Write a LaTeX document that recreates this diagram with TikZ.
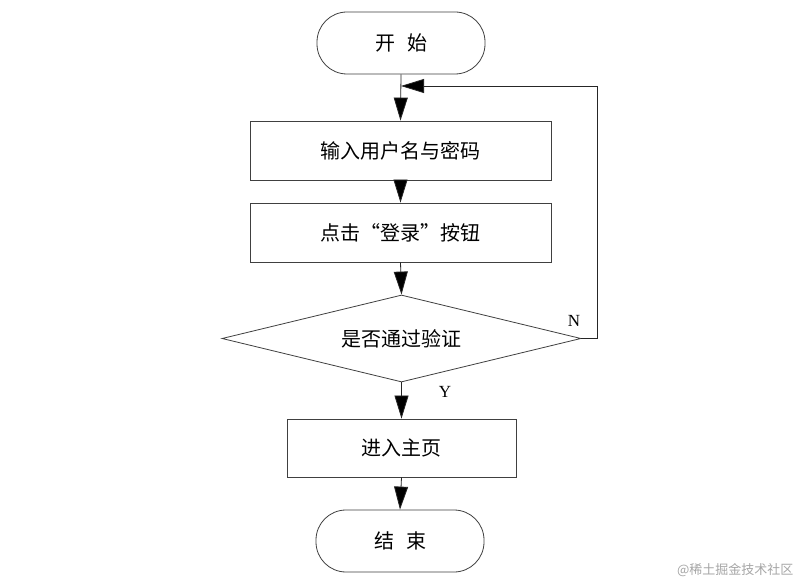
\documentclass[tikz,border=0pt]{standalone}
\usepackage{fontspec}
\setmainfont{Liberation Serif}
\newfontfamily\cjk{Noto Sans CJK SC}
\usetikzlibrary{arrows.meta,shapes.geometric}
\begin{document}
\begin{tikzpicture}[x=1pt,y=-1pt,
  cjkfont/.style={font=\cjk\fontsize{20}{20}\selectfont},
  term/.style={draw=black!75,line width=0.8pt,rounded corners=30pt,minimum width=168pt,minimum height=62pt,inner sep=0pt,cjkfont},
  proc/.style={draw=black!75,line width=0.8pt,minimum width=301pt,minimum height=59pt,inner sep=0pt,cjkfont},
  dec/.style={draw=black!75,line width=0.8pt,diamond,aspect=4.126,minimum width=359pt,minimum height=87pt,inner sep=0pt,cjkfont},
  conn/.style={draw=black!85,line width=0.8pt,-{Triangle[width=14pt,length=23pt,fill=black]}},
  lbl/.style={font=\fontsize{17}{17}\selectfont}]
\useasboundingbox[fill=white] (0,0) rectangle (801,585);
\node[term] (start) at (401,43) {开\hspace{0.6em}始};
\node[proc] (input) at (400.5,150.5) {输入用户名与密码};
\node[proc] (click) at (400.5,232.5) {点击“登录”按钮};
\node[dec] (check) at (401.5,338.5) {是否通过验证};
\node[proc,minimum width=229pt,minimum height=58pt] (home) at (401.5,448) {进入主页};
\node[term] (end) at (400,541) {结\hspace{0.6em}束};
\coordinate (loopin) at (401,86);
\draw[conn] (start.south) -- (input.north);
\draw[conn] (input.south) -- (click.north);
\draw[conn] (click.south) -- (check.north);
\draw[conn] (check.south) -- (home.north);
\draw[conn] (home.south) -- (end.north);
\draw[conn] (check.east) -- (597,338.5) -- (597,86) -- (loopin);
\node[lbl] (n) at (574,321) {N};
\node[lbl] (y) at (445,392) {Y};
\node[font=\cjk\fontsize{13}{13}\selectfont,text=black!35,anchor=east] (wm) at (797,570) {@稀土掘金技术社区};
\end{tikzpicture}
\end{document}
